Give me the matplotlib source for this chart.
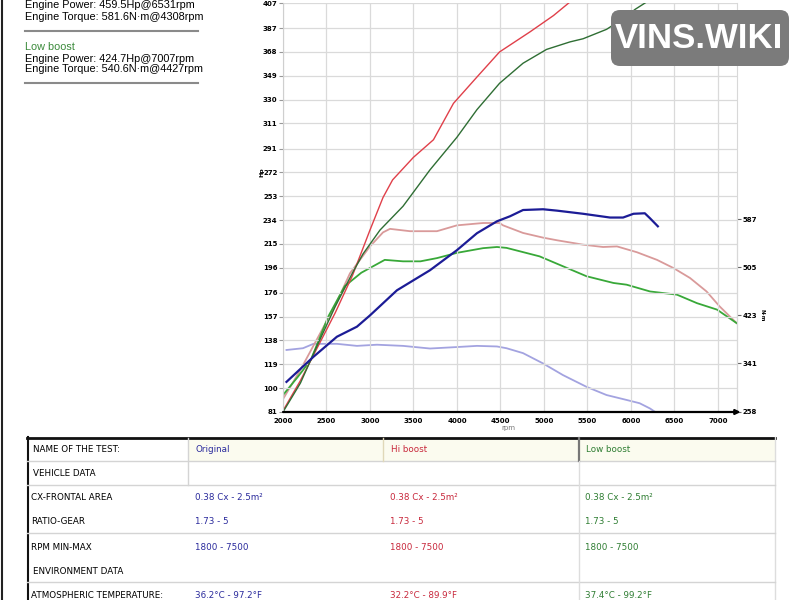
import numpy as np
import matplotlib.pyplot as plt
from matplotlib.patches import FancyBboxPatch, Rectangle

# power curves (Hp, left axis)
hi_pw_rpm = [2000, 2200, 2400, 2600, 2800, 3000, 3150, 3260, 3500, 3730, 3960, 4230, 4490, 4840, 5110, 5320, 5400]
hi_pw = [82, 106, 133, 160, 190, 226, 252, 266, 284, 298, 327, 348, 368, 384, 397, 409, 414]

lo_pw_rpm = [2000, 2200, 2400, 2600, 2800, 2920, 3115, 3380, 3690, 4000, 4230, 4490, 4760, 5030, 5300, 5450, 5720, 5900, 6050, 6230]
lo_pw = [81, 104, 135, 165, 192, 207, 226, 245, 274, 300, 322, 343, 359, 370, 376, 378.5, 386, 394, 402, 410]

or_pw_rpm = [2040, 2350, 2620, 2850, 3000, 3310, 3500, 3690, 4000, 4230, 4460, 4610, 4760, 4990, 5150, 5450, 5760, 5910, 6030, 6160, 6220, 6310]
or_pw = [105, 125, 141, 149, 158, 178, 186, 194, 210, 223.5, 233, 237, 242, 242.6, 241.5, 239, 236, 236, 239, 239.4, 235.4, 229]

# torque curves (N·m, right axis)
hi_tq_rpm = [2000, 2200, 2400, 2600, 2770, 3000, 3150, 3230, 3460, 3770, 4000, 4300, 4490, 4530, 4760, 4990, 5150, 5450, 5680, 5840, 6070, 6300, 6490, 6680, 6870, 7020, 7215]
hi_tq = [280, 330, 385, 440, 495, 541, 565, 571, 567, 567, 577, 581, 581, 577, 564, 556, 551.5, 544, 540, 541, 531, 518, 504, 487, 464, 438.5, 410]

lo_tq_rpm = [2000, 2170, 2320, 2520, 2710, 2900, 3170, 3380, 3580, 3770, 4000, 4300, 4460, 4570, 4950, 5220, 5490, 5800, 5950, 6220, 6530, 6760, 6990, 7215]
lo_tq = [287, 318, 347, 421, 473, 496, 518, 515.5, 515.5, 521, 530, 538, 540, 538.5, 524, 507, 490, 478.5, 475.6, 464, 458.5, 444, 433, 410]

or_tq_rpm = [2040, 2230, 2350, 2620, 2850, 3080, 3380, 3690, 4000, 4230, 4460, 4570, 4760, 4990, 5220, 5490, 5720, 5950, 6100, 6220, 6300]
or_tq = [364, 367, 374.5, 374.5, 371, 373, 371, 366.5, 369, 371, 370, 367, 358.6, 341, 321, 301, 287, 278.6, 273, 264, 256]

hp_ticks = [81, 100, 119, 138, 157, 176, 196, 215, 234, 253, 272, 291, 311, 330, 349, 368, 387, 407]
nm_ticks = [258, 341, 423, 505, 587]
rpm_ticks = [2000, 2500, 3000, 3500, 4000, 4500, 5000, 5500, 6000, 6500, 7000]

summary = [
    ("Engine Power: 459.5Hp@6531rpm", "Engine Torque: 581.6N·m@4308rpm"),
    ("Engine Power: 424.7Hp@7007rpm", "Engine Torque: 540.6N·m@4427rpm"),
]

tests = ["Original", "Hi boost", "Low boost"]
test_colors = ["#2a2a9c", "#c8283c", "#2e7d32"]
row_labels = ["VEHICLE DATA", "CX-FRONTAL AREA", "RATIO-GEAR", "RPM MIN-MAX", "ENVIRONMENT DATA", "ATMOSPHERIC TEMPERATURE:"]
row_values = [
    None,
    ["0.38 Cx - 2.5m²"] * 3,
    ["1.73 - 5"] * 3,
    ["1800 - 7500"] * 3,
    None,
    ["36.2°C - 97.2°F", "32.2°C - 89.9°F", "37.4°C - 99.2°F"],
]

fig = plt.figure(figsize=(8, 6), dpi=100)

# ---- chart ----
ax = fig.add_axes([283/800, 1-412/600, (737-283)/800, 409/600])
ax.set_xlim(2000, 7220)
ax.set_ylim(81, 407)
ax.set_xticks(rpm_ticks)
ax.set_yticks(hp_ticks)
ax.grid(True, color="#dadada", lw=0.9)
ax.set_axisbelow(True)
for s in ["top", "bottom"]:
    ax.spines[s].set_visible(False)
ax.spines["left"].set_color("#cfcfcf")
ax.spines["right"].set_color("#d8d8d8")
ax.tick_params(axis="y", length=3, width=0.8, color="#999999", labelsize=5, pad=1)
ax.tick_params(axis="x", length=0, labelsize=5, pad=4)
for lab in ax.get_xticklabels() + ax.get_yticklabels():
    lab.set_fontweight("bold")
ax.annotate("", xy=(1.008, 0), xytext=(0, 0), xycoords="axes fraction",
            arrowprops=dict(arrowstyle="-|>", color="black", lw=1.6, mutation_scale=7,
                            shrinkA=0, shrinkB=0), annotation_clip=False)

ax2 = ax.twinx()
ax2.set_ylim(258, 957)
ax2.set_yticks(nm_ticks)
for s in ["top", "bottom", "left"]:
    ax2.spines[s].set_visible(False)
ax2.spines["right"].set_bounds(258, 587)
ax2.spines["right"].set_color("#bbbbbb")
ax2.tick_params(axis="y", length=3, width=0.8, color="#666666", labelsize=5, pad=1)
for lab in ax2.get_yticklabels():
    lab.set_fontweight("bold")

ax2.plot(or_tq_rpm, or_tq, color="#a3a3e0", lw=1.3)
ax2.plot(hi_tq_rpm, hi_tq, color="#d99a9a", lw=1.3)
ax2.plot(lo_tq_rpm, lo_tq, color="#38a838", lw=1.3)

ax.set_zorder(ax2.get_zorder() + 1)
ax.patch.set_visible(False)
ax.plot(hi_pw_rpm, hi_pw, color="#e0404a", lw=1.0)
ax.plot(lo_pw_rpm, lo_pw, color="#2f6e34", lw=1.0)
ax.plot(or_pw_rpm, or_pw, color="#1c1c96", lw=1.6)

fig.text(262/800, 1-172/600, "Hp", rotation=90, fontsize=4.5, fontweight="bold",
         ha="center", va="center")
fig.text(762/800, 1-315/600, "N·m", rotation=270, fontsize=4, fontweight="bold",
         ha="center", va="center")
fig.text(508/800, 1-428/600, "rpm", fontsize=5, color="#777777", ha="center", va="center")

# ---- overlay: header text, table, watermark ----
ov = fig.add_axes([0, 0, 1, 1])
ov.set_xlim(0, 800)
ov.set_ylim(600, 0)
ov.axis("off")
ov.set_zorder(ax.get_zorder() + 2)

ov.plot([1.5, 1.5], [0, 600], color="#222222", lw=1.5)

hfont = dict(family="Liberation Sans", fontsize=7.8, va="center", ha="left")
ov.text(25, 5, summary[0][0], **hfont)
ov.text(25, 17, summary[0][1], **hfont)
ov.plot([25, 198], [31, 31], color="#8a8a8a", lw=1.5)
ov.text(25, 47, "Low boost", color="#3a8a3a", **hfont)
ov.text(25, 58.5, summary[1][0], **hfont)
ov.text(25, 69.5, summary[1][1], **hfont)
ov.plot([25, 198], [83, 83], color="#8a8a8a", lw=1.5)

# table
tfont = dict(family="DejaVu Sans", fontsize=6.3, va="center", ha="left")
ov.add_patch(Rectangle((188, 438), 587, 23, color="#fbfbef", lw=0))
ov.plot([27, 775], [437.5, 437.5], color="#111111", lw=2)
ov.plot([27.5, 27.5], [437, 600], color="#111111", lw=1.5)
ov.plot([775, 775], [437, 600], color="#dddddd", lw=1)
for yy in [461, 485, 533, 582]:
    ov.plot([27, 775], [yy, yy], color="#d4d4d4", lw=1)
ov.plot([188, 188], [438, 485], color="#d4d4d4", lw=1)
ov.plot([383, 383], [438, 461], color="#e0d8b8", lw=1)
ov.plot([579, 579], [438, 461], color="#777777", lw=1.6)
ov.plot([579, 579], [461, 600], color="#dddddd", lw=1)

col_x = [195, 390, 585]
ov.text(33, 450, "NAME OF THE TEST:", **tfont)
for x, name, c in zip(col_x, tests, test_colors):
    ov.text(x + 1, 450, name, color=c, **tfont)
row_y = [474, 498, 522, 547, 571, 595]
for y, lab, vals in zip(row_y, row_labels, row_values):
    ov.text(33 if vals is None else 31, y, lab, **tfont)
    if vals:
        for x, v, c in zip(col_x, vals, test_colors):
            ov.text(x, y, v, color=c, **tfont)

# watermark
ov.add_patch(FancyBboxPatch((611, 10), 178, 56, boxstyle="round,pad=0,rounding_size=9",
                            color="#7b7b7b", lw=0))
ov.text(699, 39, "VINS.WIKI", color="white", fontsize=25, fontweight="bold",
        family="Liberation Sans", ha="center", va="center")

fig.savefig("out.png", dpi=100)
